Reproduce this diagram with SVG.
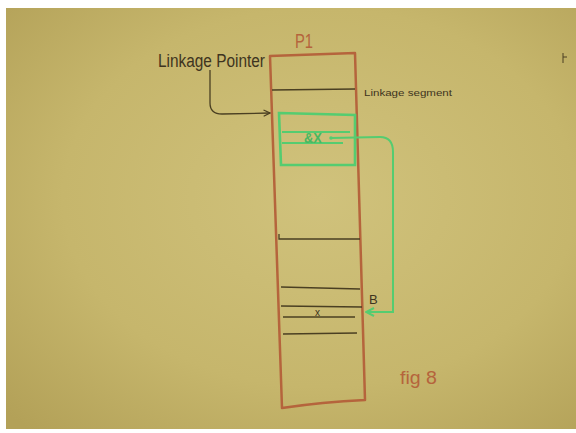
<svg xmlns="http://www.w3.org/2000/svg" width="576" height="433" viewBox="0 0 576 433">
<defs>
<radialGradient id="bg" cx="0.55" cy="0.45" r="0.75">
<stop offset="0" stop-color="#d0c27c"/>
<stop offset="0.6" stop-color="#c6b66c"/>
<stop offset="1" stop-color="#b3a158"/>
</radialGradient>
<marker id="ah-dark" viewBox="0 0 10 10" refX="9" refY="5" markerWidth="8" markerHeight="8" orient="auto" markerUnits="userSpaceOnUse">
<path d="M1,1 L9,5 L1,9" fill="none" stroke="#4a3f22" stroke-width="1.5"/>
</marker>
<marker id="ah-green" viewBox="0 0 10 10" refX="9" refY="5" markerWidth="10" markerHeight="10" orient="auto" markerUnits="userSpaceOnUse">
<path d="M1,1 L9,5 L1,9" fill="none" stroke="#55cc70" stroke-width="2"/>
</marker>
<style>
.brown{fill:none;stroke:#b5643c;stroke-width:2.5;stroke-linejoin:round}
.ink{fill:none;stroke:#4a3f22;stroke-width:1.3}
.green{fill:none;stroke:#55cc70;stroke-width:2.6}
.greenthin{fill:none;stroke:#55cc70;stroke-width:2}
.t{font-family:"Liberation Sans",Arial,sans-serif}
.tink{fill:#3e3420}
.tbrown{fill:#b5643c}
.tgreen{fill:#48b860}
</style>
</defs>
<rect x="0" y="0" width="576" height="433" fill="#ffffff"/>
<rect x="6" y="8" width="570" height="421" fill="url(#bg)"/>
<g id="column-P1">
<path class="brown" d="M270,56 L355,53 L365,400 Q322,402 282,408 Z"/>
<path class="ink" d="M272,90 L355,89"/>
<path class="ink" d="M279,234 L279,239 L360,239"/>
<path class="ink" d="M281,287 L360,289"/>
<path class="ink" d="M281,306 L362,307"/>
<path class="ink" d="M283,317 L355,317"/>
<path class="ink" d="M283,334 L357,333"/>
<text class="t tbrown" x="295" y="48" font-size="21" textLength="18" lengthAdjust="spacingAndGlyphs">P1</text>
<text class="t tink" x="315" y="316" font-size="10">x</text>
</g>
<g id="linkage-box">
<path class="green" d="M279,113 L355,115 L355,165 L281,165 Z"/>
<path class="greenthin" d="M282,132 L350,132"/>
<path class="greenthin" d="M282,143 L343,143"/>
<text class="t tgreen" x="304" y="143" font-size="14" font-weight="bold" textLength="18" lengthAdjust="spacingAndGlyphs">&amp;X</text>
<circle cx="331" cy="138" r="1.8" fill="#55cc70"/>
</g>
<g id="label-linkage-pointer">
<text class="t tink" x="158" y="67" font-size="18" textLength="107" lengthAdjust="spacingAndGlyphs">Linkage Pointer</text>
</g>
<g id="label-linkage-segment">
<text class="t tink" x="364" y="96" font-size="9.5" textLength="88" lengthAdjust="spacingAndGlyphs">Linkage segment</text>
</g>
<g id="label-B">
<text class="t tink" x="369" y="304" font-size="13">B</text>
</g>
<g id="label-fig8">
<text class="t tbrown" x="400" y="384" font-size="18" textLength="37" lengthAdjust="spacingAndGlyphs">fig 8</text>
</g>
<g id="mark">
<path d="M563,53 L563,63 M563,57 L567,57" stroke="#4a3f22" stroke-width="1" fill="none"/>
</g>
<g id="connectors">
<path class="ink" d="M210,70 L210,103 Q210,114 222,114 L270,113" marker-end="url(#ah-dark)"/>
<path class="greenthin" d="M331,138 L380,137 Q393,137 393,152 L393,312 L366,312" marker-end="url(#ah-green)"/>
</g>
</svg>
